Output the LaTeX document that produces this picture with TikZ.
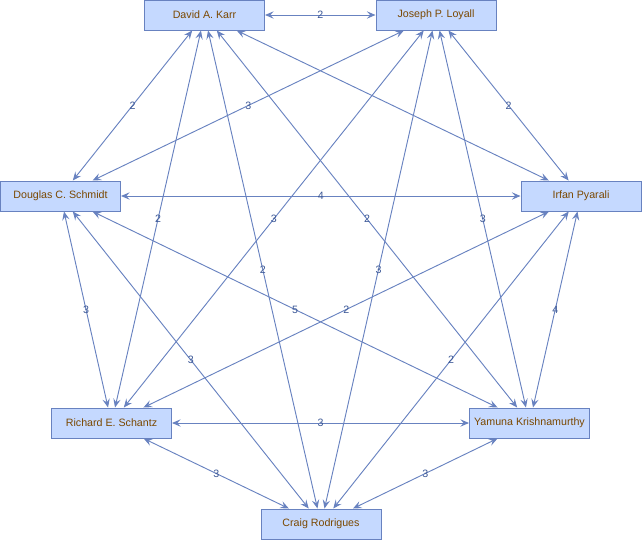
\documentclass[tikz,border=0pt]{standalone}
\usepackage{fontspec}
\setmainfont{Liberation Sans}
\usetikzlibrary{arrows.meta}
\definecolor{linkblue}{RGB}{104,130,192}
\definecolor{boxfill}{RGB}{197,217,255}
\definecolor{namebrown}{RGB}{122,72,0}
\definecolor{weightblue}{RGB}{60,88,150}
\tikzset{
  person/.style={draw=linkblue, fill=boxfill, text=namebrown, line width=0.75pt,
    minimum width=90pt, minimum height=22.5pt, inner sep=0.75pt,
    font=\fontsize{8}{9.6}\selectfont},
  link/.style={draw=linkblue, line width=0.7pt,
    {Stealth[length=6.5pt,width=5.5pt,inset=2.5pt]}-{Stealth[length=6.5pt,width=5.5pt,inset=2.5pt]}},
  weight/.style={text=weightblue, inner sep=0pt, font=\fontsize{8}{9.6}\selectfont}
}
\begin{document}
\begin{tikzpicture}[x=0.75pt,y=0.75pt,yscale=-1,xscale=1]
\useasboundingbox (0,0) rectangle (642,540);

% Person Nodes
\node [person] (karr) at (204.5,15) {David A. Karr};
\node [person] (loyall) at (436,15) {Joseph P. Loyall};
\node [person] (schmidt) at (60.5,196) {Douglas C. Schmidt};
\node [person] (pyarali) at (581,196) {Irfan Pyarali};
\node [person] (schantz) at (111.5,423) {Richard E. Schantz};
\node [person] (yamuna) at (529.5,423) {Yamuna Krishnamurthy};
\node [person] (rodrigues) at (321,524) {Craig Rodrigues};

% Links from Karr
\draw [link] (karr) -- node [weight] {2} (loyall);
\draw [link] (karr) -- node [weight] {2} (schmidt);
\draw [link] (karr) -- (pyarali);
\draw [link] (karr) -- node [weight] {2} (schantz);
\draw [link] (karr) -- node [weight] {2} (yamuna);
\draw [link] (karr) -- node [weight] {2} (rodrigues);
% Links from Loyall
\draw [link] (loyall) -- node [weight] {3} (schmidt);
\draw [link] (loyall) -- node [weight] {2} (pyarali);
\draw [link] (loyall) -- node [weight] {3} (schantz);
\draw [link] (loyall) -- node [weight] {3} (yamuna);
\draw [link] (loyall) -- node [weight] {3} (rodrigues);
% Links from Schmidt
\draw [link] (schmidt) -- node [weight] {4} (pyarali);
\draw [link] (schmidt) -- node [weight] {3} (schantz);
\draw [link] (schmidt) -- node [weight] {5} (yamuna);
\draw [link] (schmidt) -- node [weight] {3} (rodrigues);
% Links from Pyarali
\draw [link] (pyarali) -- node [weight] {2} (schantz);
\draw [link] (pyarali) -- node [weight] {4} (yamuna);
\draw [link] (pyarali) -- node [weight] {2} (rodrigues);
% Links along the bottom
\draw [link] (schantz) -- node [weight] {3} (yamuna);
\draw [link] (schantz) -- node [weight] {3} (rodrigues);
\draw [link] (yamuna) -- node [weight] {3} (rodrigues);

\end{tikzpicture}
\end{document}
